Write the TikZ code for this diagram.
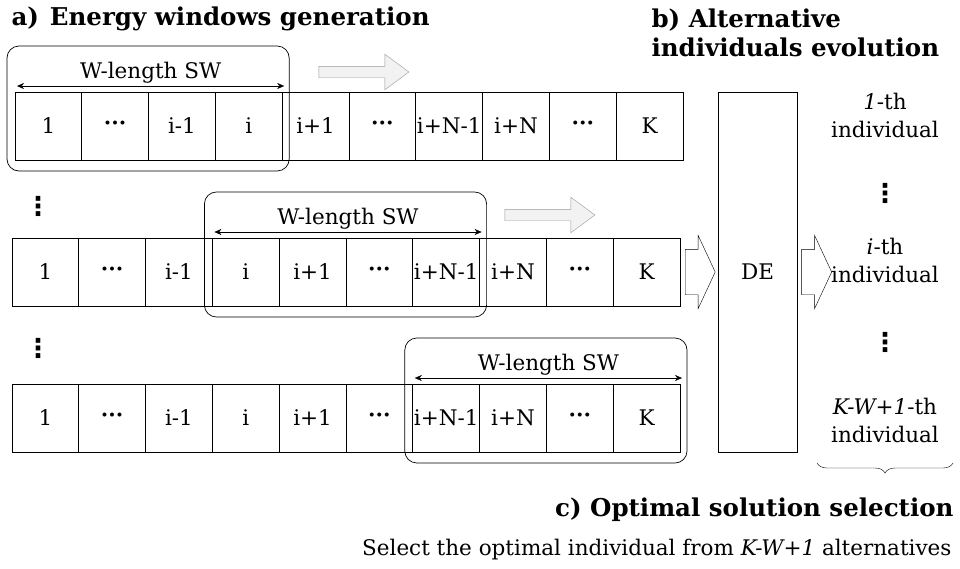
\documentclass[tikz,border=0pt]{standalone}
\usepackage{fontspec}
\setmainfont{DejaVu Serif}
\newfontfamily\symfont{DejaVu Sans}
\usetikzlibrary{shapes.arrows,decorations.pathreplacing,arrows.meta}

\begin{document}
\begin{tikzpicture}[x=1pt,y=-1pt,
  font=\fontsize{21.5}{28}\selectfont,
  cell/.style={draw, line width=0.9pt, minimum width=66.8pt, minimum height=68pt, inner sep=0pt, outer sep=0pt},
  window/.style={draw, line width=0.7pt, rounded corners=12pt},
  sw/.style={{Stealth[length=7pt,width=6pt]}-{Stealth[length=7pt,width=6pt]}},
  shift arrow/.style={single arrow, draw=gray!80, fill=gray!10, minimum height=90pt,
    inner xsep=0pt, inner ysep=5.5pt, single arrow head extend=12pt, single arrow tip angle=73},
  flow arrow/.style={single arrow, draw, fill=white, minimum height=30pt,
    inner xsep=0pt, inner ysep=22.5pt, single arrow head extend=14pt, single arrow tip angle=130},
  title/.style={font=\fontsize{24.5}{29}\selectfont\bfseries, align=left},
  indiv/.style={align=center},
  vdot/.style={font=\symfont\bfseries\fontsize{26}{26}\selectfont, inner sep=0pt}]
\useasboundingbox (0,0) rectangle (960,568);

% titles
\node[title, anchor=west] (ta) at (8,19) {a)\hspace{0.45em}Energy windows generation};
\node[title, anchor=north west] (tb) at (648,5) {b) Alternative\\individuals evolution};

% the three energy sequences
\foreach \r/\x/\y in {1/15/126, 2/12/272, 3/12/418}
  \foreach \t [count=\j] in {1,{\bfseries ···},i-1,i,i+1,{\bfseries ···},i+N-1,i+N,{\bfseries ···},K}
    \node[cell] (c\r-\j) at ({\x+66.8*(\j-0.5)},\y) {\t};

% sliding windows
\foreach \r/\a/\b in {1/1/4, 2/4/7, 3/7/10} {
  \draw[window] ([shift={(-8,-46)}]c\r-\a.north west) rectangle ([shift={(7,11)}]c\r-\b.south east);
  \draw[sw] ([shift={(2,-6)}]c\r-\a.north west) -- node[above=-1pt] (sw\r) {W-length SW}
    ([shift={(2,-6)}]c\r-\b.north east);
}

\node[shift arrow] (m1) at (360,72) {};
\node[shift arrow] (m2) at (546,215) {};

\node[vdot] (vl1) at (38,206) {⋮};
\node[vdot] (vl2) at (38,348) {⋮};

% DE
\node[draw, line width=0.9pt, minimum width=79pt, minimum height=360pt] (de) at (757.5,272) {DE};
\node[flow arrow, anchor=tail] (f1) at ([xshift=5pt]c2-10.east) {};
\node[flow arrow, anchor=tail] (f2) at ([xshift=4pt]de.east) {};

% individuals
\node[indiv] (ind1) at (885,115) {\textit{1}-th\\individual};
\node[vdot] (vr1) at (885,193) {⋮};
\node[indiv] (ind2) at (885,260) {\textit{i}-th\\individual};
\node[vdot] (vr2) at (885,342) {⋮};
\node[indiv] (ind3) at (885,420) {\textit{K-W+1}-th\\individual};

% selection
\coordinate (bl) at (817,463);
\coordinate (br) at (953,463);
\draw[decorate, decoration={brace, mirror, amplitude=10pt}] (bl) -- (br);
\node[title, anchor=east] (tc) at (957,510) {c) Optimal solution selection};
\node[anchor=east] (sel) at (955,550) {Select the optimal individual from \textit{K-W+1} alternatives};
\end{tikzpicture}
\end{document}
